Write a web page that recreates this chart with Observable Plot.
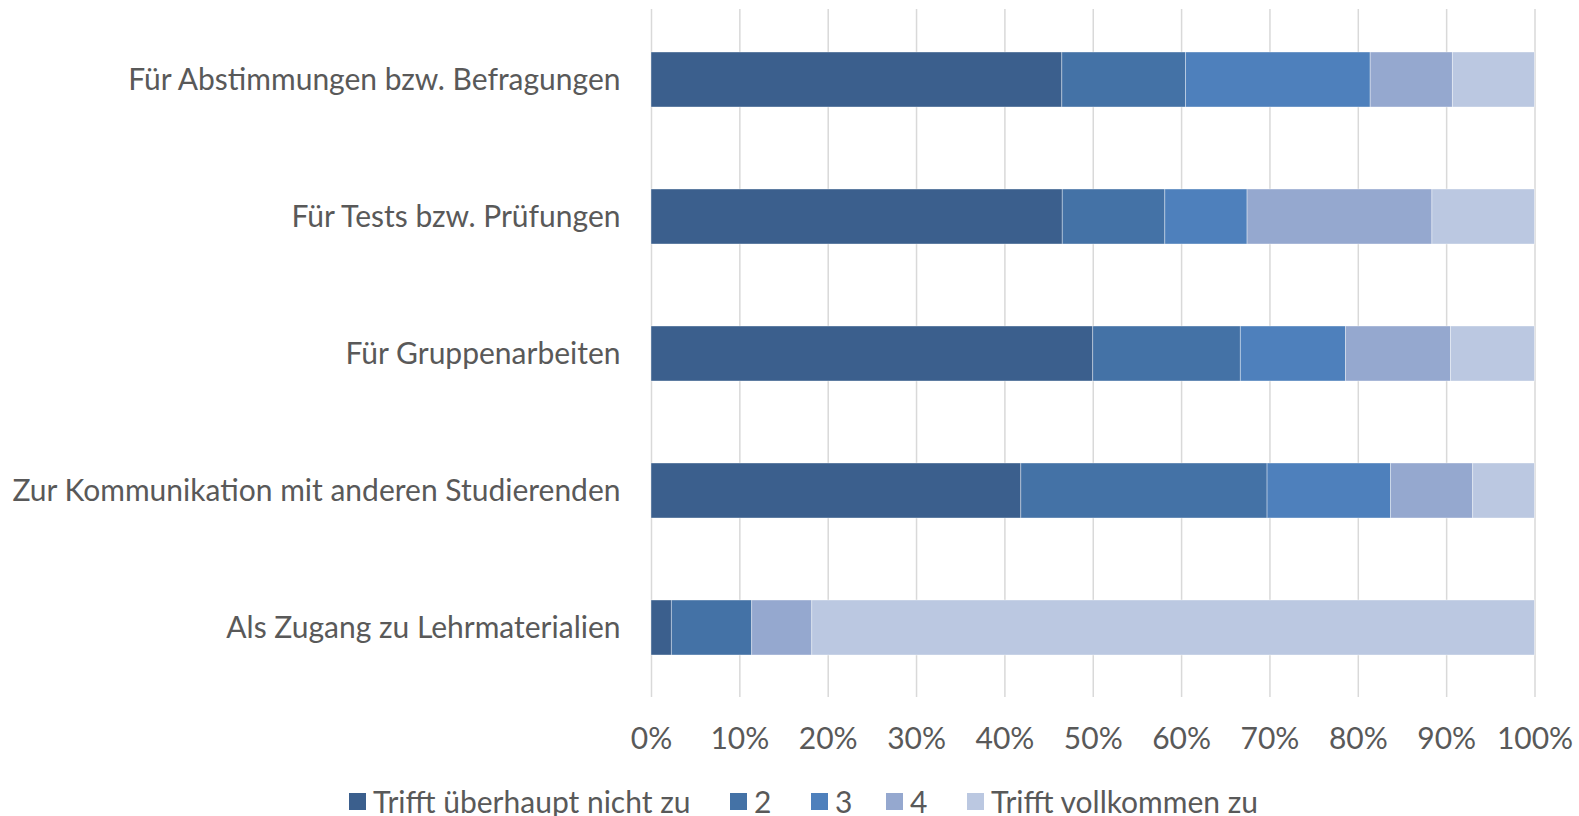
<!DOCTYPE html>
<html>
<head>
<meta charset="utf-8">
<script src="https://cdn.jsdelivr.net/npm/d3@7"></script>
<script src="https://cdn.jsdelivr.net/npm/@observablehq/plot@0.6"></script>
<style>
  html, body { margin: 0; padding: 0; background: #fff; }
  body { width: 1579px; height: 816px; overflow: hidden; font-family: Lato, sans-serif; }
  #legend { position: relative; height: 46px; }
  .item { position: absolute; top: 8px; height: 46px; display: flex; align-items: center; color: #595959; font-size: 30px; }
  .sw { width: 17px; height: 17px; margin-right: 7px; }
</style>
</head>
<body>
<div id="chart"></div>
<div id="legend"></div>
<script>
const categories = [
  "Für Abstimmungen bzw. Befragungen",
  "Für Tests bzw. Prüfungen",
  "Für Gruppenarbeiten",
  "Zur Kommunikation mit anderen Studierenden",
  "Als Zugang zu Lehrmaterialien"
];
const series = ["Trifft überhaupt nicht zu", "2", "3", "4", "Trifft vollkommen zu"];
const s1 = [46.5, 46.5, 50.0, 41.9, 2.3];
const s2 = [14.0, 11.6, 16.7, 27.9, 9.1];
const s3 = [20.9, 9.3, 11.9, 14.0, 0];
const s4 = [9.3, 20.9, 11.9, 9.3, 6.8];
const s5 = [9.3, 11.6, 9.5, 7.0, 81.8];
const xTicks = [0, 0.1, 0.2, 0.3, 0.4, 0.5, 0.6, 0.7, 0.8, 0.9, 1.0];
const colors = ["#3B5F8D", "#4472A6", "#4E80BC", "#95A8CF", "#BBC8E1"];

const seriesValues = [s1, s2, s3, s4, s5];
const data = [];
categories.forEach((c, i) => {
  series.forEach((s, j) => {
    data.push({cat: c, series: s, value: seriesValues[j][i]});
  });
});

const chart = Plot.plot({
  width: 1579,
  height: 770,
  marginTop: 9,
  marginBottom: 73,
  marginLeft: 651,
  marginRight: 44.5,
  style: {fontFamily: "Lato, sans-serif", fontSize: "30px", color: "#595959", background: "white"},
  x: {domain: [0, 1], ticks: xTicks, tickFormat: d3.format(".0%"), label: null},
  y: {domain: categories, paddingInner: 0.6, paddingOuter: 0.3, label: null},
  color: {domain: series, range: colors},
  marks: [
    Plot.ruleX(xTicks, {stroke: "#d9d9d9", strokeWidth: 1.5}),
    Plot.barX(data, Plot.stackX({
      x: "value", y: "cat", fill: "series", offset: "normalize",
      stroke: "white", strokeWidth: 0.75, strokeOpacity: 0.5
    })),
    Plot.axisX({ticks: xTicks, tickFormat: d3.format(".0%"), tickSize: 0, tickPadding: 30, fill: "#595959", fontSize: 30, label: null}),
    Plot.axisY({tickSize: 0, tickPadding: 31, fill: "#595959", fontSize: 30, label: null})
  ]
});
document.getElementById("chart").appendChild(chart);

const lefts = [349, 730, 811, 886, 967];
const legend = d3.select("#legend");
series.forEach((s, j) => {
  const it = legend.append("div").attr("class", "item").style("left", lefts[j] + "px");
  it.append("div").attr("class", "sw").style("background", colors[j]);
  it.append("span").text(s);
});
</script>
</body>
</html>
